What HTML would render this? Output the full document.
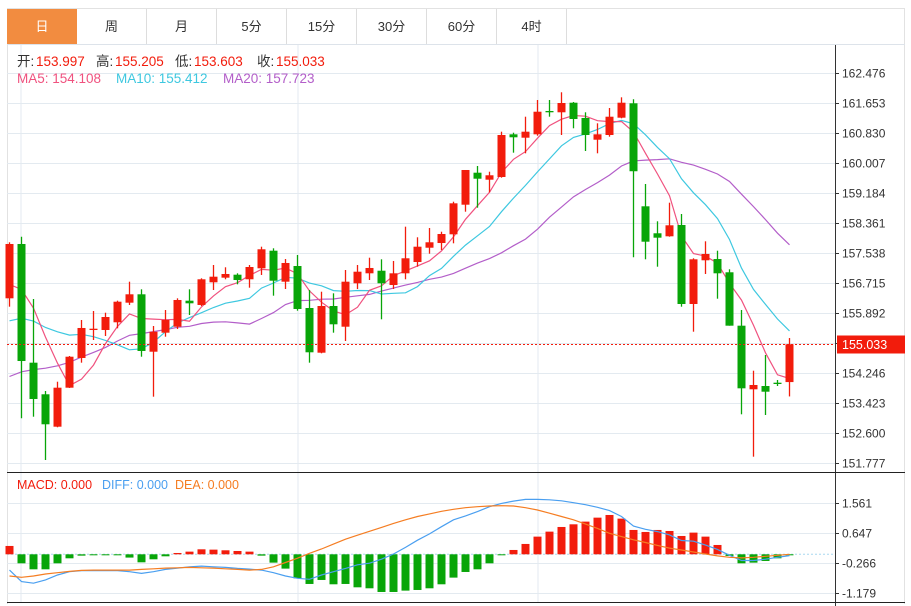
<!DOCTYPE html>
<html><head><meta charset="utf-8">
<style>
body{margin:0;background:#fff;width:911px;height:606px;overflow:hidden;font-family:"Liberation Sans","Noto Sans CJK SC",sans-serif;}
#wrap{position:absolute;left:0;top:0;width:911px;height:606px;}
.tab{position:absolute;top:9px;height:35px;width:69px;border-right:1px solid #ddd;text-align:center;line-height:35px;font-size:13px;color:#333;cursor:pointer;}
svg text{font-family:"Liberation Sans","Noto Sans CJK SC",sans-serif;}
</style></head><body>
<div id="wrap">
<div style="position:absolute;left:7px;top:8px;width:898px;height:596px;border:1px solid #e2e2e2;border-bottom:none;box-sizing:border-box"></div>
<div style="position:absolute;left:7px;top:44px;width:898px;height:1px;background:#dde3ea"></div>
<div class="tab" style="left:7px;background:#f28c40;color:#fff;border-right:none;width:70px">日</div>
<div class="tab" style="left:77px">周</div>
<div class="tab" style="left:147px">月</div>
<div class="tab" style="left:217px">5分</div>
<div class="tab" style="left:287px">15分</div>
<div class="tab" style="left:357px">30分</div>
<div class="tab" style="left:427px">60分</div>
<div class="tab" style="left:497px">4时</div>
<svg id="chart" width="911" height="606" style="position:absolute;left:0;top:0"></svg>
</div>
<script>
const opens=[156.295,157.785,154.529,153.662,152.773,153.843,154.658,155.426,155.426,155.637,156.175,156.405,154.830,155.352,155.516,156.230,156.112,156.734,156.861,156.943,156.817,157.118,157.601,156.751,157.181,156.029,154.803,156.084,155.516,156.707,156.981,157.052,156.660,156.981,157.291,157.683,157.812,158.051,158.863,159.741,159.549,159.623,160.794,160.701,160.794,161.434,161.398,161.661,161.242,160.646,160.775,161.250,161.645,158.819,158.079,157.996,158.306,156.139,157.338,157.373,157.009,155.544,153.799,153.889,153.980,153.997];
const highs=[157.832,157.985,156.276,153.752,154.007,154.712,155.700,155.947,155.900,156.230,156.751,156.542,155.535,155.974,156.295,156.542,156.844,157.209,157.146,156.981,157.209,157.711,157.667,157.373,157.483,156.523,156.476,156.432,157.072,157.209,157.409,157.365,157.319,158.260,157.969,158.224,158.122,158.945,159.815,159.925,159.768,160.866,160.838,161.277,161.735,161.735,161.947,161.680,161.398,161.096,161.516,161.809,161.755,159.431,158.408,158.918,158.608,157.393,157.859,157.601,157.091,155.974,154.309,154.740,154.054,155.205];
const lows=[156.065,153.003,153.047,151.859,152.757,153.835,154.529,155.151,155.261,155.472,156.112,154.693,153.596,155.242,155.453,155.837,156.084,156.523,156.817,156.679,156.586,156.935,156.367,156.550,155.955,154.529,154.786,155.352,155.124,156.550,156.797,155.719,156.550,156.817,157.162,157.519,157.620,157.804,158.671,158.781,159.203,159.604,160.290,160.273,160.756,161.277,160.775,160.959,160.336,160.273,160.729,161.233,157.420,157.365,157.162,157.985,156.065,155.379,156.962,156.284,155.544,153.113,151.950,153.094,153.889,153.603];
const closes=[157.785,154.575,153.533,152.839,153.843,154.693,155.481,155.461,155.782,156.202,156.405,154.850,155.379,155.700,156.249,156.158,156.817,156.888,156.962,156.797,157.154,157.640,156.778,157.264,156.002,154.814,156.084,155.582,156.751,157.025,157.127,156.707,156.981,157.393,157.711,157.832,158.059,158.901,159.815,159.576,159.670,160.775,160.712,160.866,161.414,161.398,161.653,161.214,160.775,160.794,161.277,161.661,159.781,157.848,157.958,158.298,156.139,157.365,157.511,156.981,155.544,153.826,153.917,153.733,153.963,155.033];
const prevCloses=[152.0,152.3,152.1,152.5,152.8,152.6,152.9,153.0,152.7,153.3,153.9,154.3,154.6,155.0,155.6,155.28,156.10,156.80,157.42];
const priceTicks=[162.476,161.653,160.830,160.007,159.184,158.361,157.538,156.715,155.892,155.069,154.246,153.423,152.600,151.777];
const macdBars=[0.254,-0.274,-0.457,-0.457,-0.274,-0.122,-0.041,-0.03,-0.02,-0.01,-0.10,-0.244,-0.152,-0.061,0.04,0.081,0.152,0.142,0.122,0.101,0.081,-0.041,-0.254,-0.436,-0.731,-0.903,-0.781,-0.913,-0.903,-1.005,-1.035,-1.147,-1.147,-1.106,-1.086,-1.035,-0.913,-0.71,-0.538,-0.457,-0.274,-0.01,0.132,0.315,0.538,0.690,0.832,0.913,0.995,1.116,1.197,1.086,0.741,0.680,0.741,0.710,0.558,0.660,0.538,0.284,-0.05,-0.274,-0.254,-0.203,-0.122,-0.03];
const diffLine=[-0.48,-0.83,-0.88,-0.78,-0.63,-0.53,-0.50,-0.50,-0.50,-0.50,-0.53,-0.58,-0.53,-0.46,-0.42,-0.38,-0.36,-0.38,-0.40,-0.43,-0.45,-0.48,-0.56,-0.66,-0.73,-0.76,-0.63,-0.53,-0.43,-0.32,-0.27,-0.15,0.01,0.21,0.43,0.62,0.84,1.05,1.17,1.30,1.45,1.55,1.62,1.67,1.67,1.66,1.63,1.57,1.51,1.43,1.33,1.15,0.86,0.76,0.69,0.59,0.42,0.40,0.28,0.15,-0.03,-0.19,-0.19,-0.15,-0.09,-0.04];
const deaLine=[-0.66,-0.70,-0.66,-0.60,-0.56,-0.52,-0.49,-0.48,-0.48,-0.48,-0.48,-0.46,-0.44,-0.42,-0.41,-0.40,-0.41,-0.42,-0.44,-0.46,-0.48,-0.46,-0.38,-0.25,-0.12,0.03,0.16,0.31,0.46,0.58,0.70,0.82,0.94,1.05,1.15,1.23,1.31,1.37,1.42,1.45,1.47,1.48,1.47,1.42,1.35,1.25,1.15,1.05,0.92,0.79,0.64,0.54,0.44,0.36,0.27,0.19,0.13,0.07,0.01,-0.05,-0.09,-0.11,-0.09,-0.06,-0.03,0.00];
const macdTicks=[1.561,0.647,-0.266,-1.179];
const lastPrice=155.033;

const NS='http://www.w3.org/2000/svg';
const svg=document.getElementById('chart');
const RED='#f21c0c',GREEN='#08a508';
function mk(tag,attrs,parent){const e=document.createElementNS(NS,tag);for(const k in attrs)e.setAttribute(k,attrs[k]);(parent||svg).appendChild(e);return e;}
const X0=9.5,STEP=12,AXIS=835;
const xOf=i=>X0+STEP*i;
const yP=p=>73+(162.476-p)/0.823*30;
const yM=v=>554.3-v/0.9133*30;

[21,298,538].forEach(x=>{const l=mk('line',{x1:x,x2:x,y1:45,y2:603,stroke:'#e3eaf0','stroke-width':1});
});
priceTicks.forEach(t=>{const y=Math.round(yP(t))+0.5;
const g=mk('line',{x1:7,x2:AXIS,y1:y,y2:y,stroke:'#e3eaf0'});
mk('line',{x1:AXIS,x2:AXIS+4,y1:y,y2:y,stroke:'#333'});
const tx=mk('text',{x:842,y:y+4,'font-size':12,fill:'#333'});tx.textContent=t.toFixed(3);
});
macdTicks.forEach(t=>{const y=Math.round(yM(t))+0.5;
const g=mk('line',{x1:7,x2:AXIS,y1:y,y2:y,stroke:'#e3eaf0'});
mk('line',{x1:AXIS,x2:AXIS+4,y1:y,y2:y,stroke:'#333'});
const tx=mk('text',{x:842,y:y+4,'font-size':12,fill:'#333'});tx.textContent=t.toFixed(3);
});

const all=prevCloses.concat(closes);
function ma(n){return closes.map((c,i)=>{const j=i+prevCloses.length;let s=0;for(let k=j-n+1;k<=j;k++)s+=all[k];return s/n;});}
function line(vals,yf,color,name){const d=vals.map((v,i)=>(i?'L':'M')+xOf(i).toFixed(1)+','+yf(v).toFixed(1)).join('');
const p=mk('path',{d:d,fill:'none',stroke:color,'stroke-width':1.2});}
line(ma(20),yP,'#b35ec9','ma20-line');
line(ma(10),yP,'#3ec8e0','ma10-line');
line(ma(5),yP,'#f0527f','ma5-line');

closes.forEach((c,i)=>{const o=opens[i];const up=c>=o;const col=up?RED:GREEN;const x=xOf(i);
const w=mk('line',{x1:x,x2:x,y1:yP(highs[i]),y2:yP(lows[i]),stroke:col,'stroke-width':1.3});

const top=yP(Math.max(o,c)),bot=yP(Math.min(o,c));
const b=mk('rect',{x:x-4,y:top,width:8,height:Math.max(1.3,bot-top),fill:col});
});

const ly=Math.round(yP(lastPrice))+0.5;
const pl=mk('line',{x1:7,x2:AXIS,y1:ly,y2:ly,stroke:'#f21c0c','stroke-dasharray':'2,2'});

const tag=mk('rect',{x:837,y:ly-9,width:68,height:18,fill:'#f21c0c'});

const tt=mk('text',{x:842,y:ly+4.5,'font-size':12.5,fill:'#fff'});tt.textContent=lastPrice.toFixed(3);


const zy=yM(0);
const zl=mk('line',{x1:7,x2:AXIS,y1:zy,y2:zy,stroke:'#a8d8f0','stroke-dasharray':'2,2'});

macdBars.forEach((v,i)=>{const y=yM(v);const r=mk('rect',{x:xOf(i)-4,y:Math.min(y,zy),width:8,height:Math.max(1,Math.abs(y-zy)),fill:v>=0?RED:GREEN});
});
line(diffLine,yM,'#4a9ff0','diff-line');
line(deaLine,yM,'#f57d22','dea-line');

mk('line',{x1:AXIS+0.5,x2:AXIS+0.5,y1:45,y2:606,stroke:'#333'});
mk('line',{x1:7,x2:905,y1:472.5,y2:472.5,stroke:'#222'});
mk('line',{x1:7,x2:905,y1:602.5,y2:602.5,stroke:'#222'});

function txt(x,y,s,col,name,fs){const t=mk('text',{x:x,y:y,'font-size':fs||13.5,fill:col});t.textContent=s;}
const items=[['开:','153.997',17],['高:','155.205',96],['低:','153.603',175],['收:','155.033',257]];
items.forEach(([a,b,x])=>{txt(x,66,a,'#333','ohlc-label');txt(x+19,66,b,'#f21c0c','ohlc-value');});
txt(17,83,'MA5: 154.108','#f0527f','ma5-legend');
txt(116,83,'MA10: 155.412','#3ec8e0','ma10-legend');
txt(223,83,'MA20: 157.723','#b35ec9','ma20-legend');
txt(17,489,'MACD: 0.000','#f21c0c','macd-legend',12.5);
txt(102,489,'DIFF: 0.000','#4a9ff0','diff-legend',12.5);
txt(175,489,'DEA: 0.000','#f57d22','dea-legend',12.5);
</script>
</body></html>
